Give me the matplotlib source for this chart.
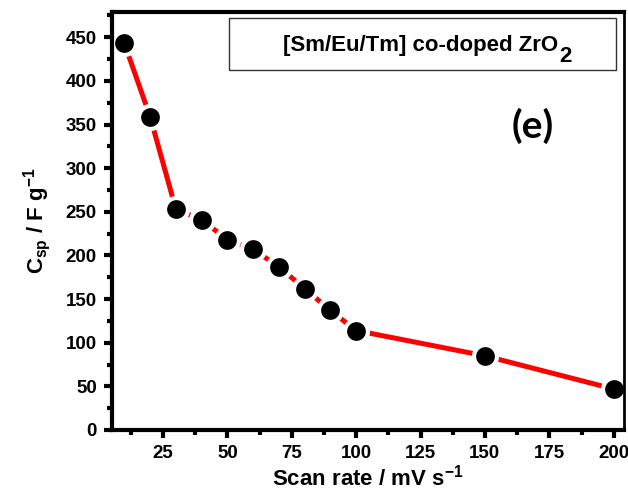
import matplotlib
matplotlib.use("Agg")
import matplotlib.pyplot as plt
from matplotlib.ticker import MultipleLocator

plt.rcParams['font.family'] = ['Liberation Sans', 'DejaVu Sans']
plt.rcParams['font.weight'] = 'bold'
plt.rcParams['mathtext.fontset'] = 'custom'
plt.rcParams['mathtext.rm'] = 'Liberation Sans:bold'
plt.rcParams['mathtext.bf'] = 'Liberation Sans:bold'
plt.rcParams['mathtext.it'] = 'Liberation Sans:bold'

# specific capacitance vs scan rate
scan_rate = [10, 20, 30, 40, 50, 60, 70, 80, 90, 100, 150, 200]
csp = [443, 359, 253, 241, 218, 207, 187, 162, 137, 114, 85, 47]

x_ticks = [25, 50, 75, 100, 125, 150, 175, 200]
y_ticks = [0, 50, 100, 150, 200, 250, 300, 350, 400, 450]

W, H = 628, 497
fig = plt.figure(figsize=(W / 100, H / 100), dpi=100)
ax = fig.add_axes([112 / W, 1 - 430 / H, (624 - 112) / W, (430 - 12) / H])

ax.plot(scan_rate, csp, color='#ff0000', lw=3.6, zorder=2,
        marker='o', ms=16.5, mfc='black', mec='white', mew=3)

ax.set_xlim(5.2, 204)
ax.set_ylim(0, 479)
ax.set_xticks(x_ticks)
ax.set_yticks(y_ticks)
ax.xaxis.set_minor_locator(MultipleLocator(12.5))
ax.yaxis.set_minor_locator(MultipleLocator(25))
ax.tick_params(which='major', direction='out', length=6, width=3,
               labelsize=13.5, pad=5)
ax.tick_params(which='minor', direction='out', length=3.5, width=3)
ax.tick_params(top=False, right=False)
for lab in ax.get_xticklabels() + ax.get_yticklabels():
    lab.set_fontweight('bold')

for side in ['left', 'bottom', 'top']:
    ax.spines[side].set_linewidth(3)
ax.spines['right'].set_linewidth(2)

ax.set_xlabel(r'Scan rate / mV s$^{\mathbf{-1}}$', fontsize=16,
              fontweight='bold', labelpad=2)
ax.set_ylabel(r'C$_{\mathbf{sp}}$ / F g$^{\mathbf{-1}}$', fontsize=16,
              fontweight='bold', labelpad=9)

# label box in the top right
box = plt.Rectangle((229 / W, 1 - 70 / H), (616 - 229) / W, 52 / H,
                    transform=fig.transFigure, fill=False, lw=1, ec='#333333')
fig.add_artist(box)
main = fig.text(283 / W, 1 - 46 / H, '[Sm/Eu/Tm] co-doped ZrO',
                fontsize=16, fontweight='bold', ha='left', va='center')
fig.canvas.draw()
bb = main.get_window_extent().transformed(fig.transFigure.inverted())
fig.text(bb.x1 + 1 / W, 1 - 56 / H, '2', fontsize=16, fontweight='bold',
         ha='left', va='center')

fig.text(533 / W, 1 - 126 / H, '(e)', fontsize=28, fontweight='bold',
         family=['Lato', 'DejaVu Sans'], ha='center', va='center')

fig.savefig('out.png', dpi=100)
